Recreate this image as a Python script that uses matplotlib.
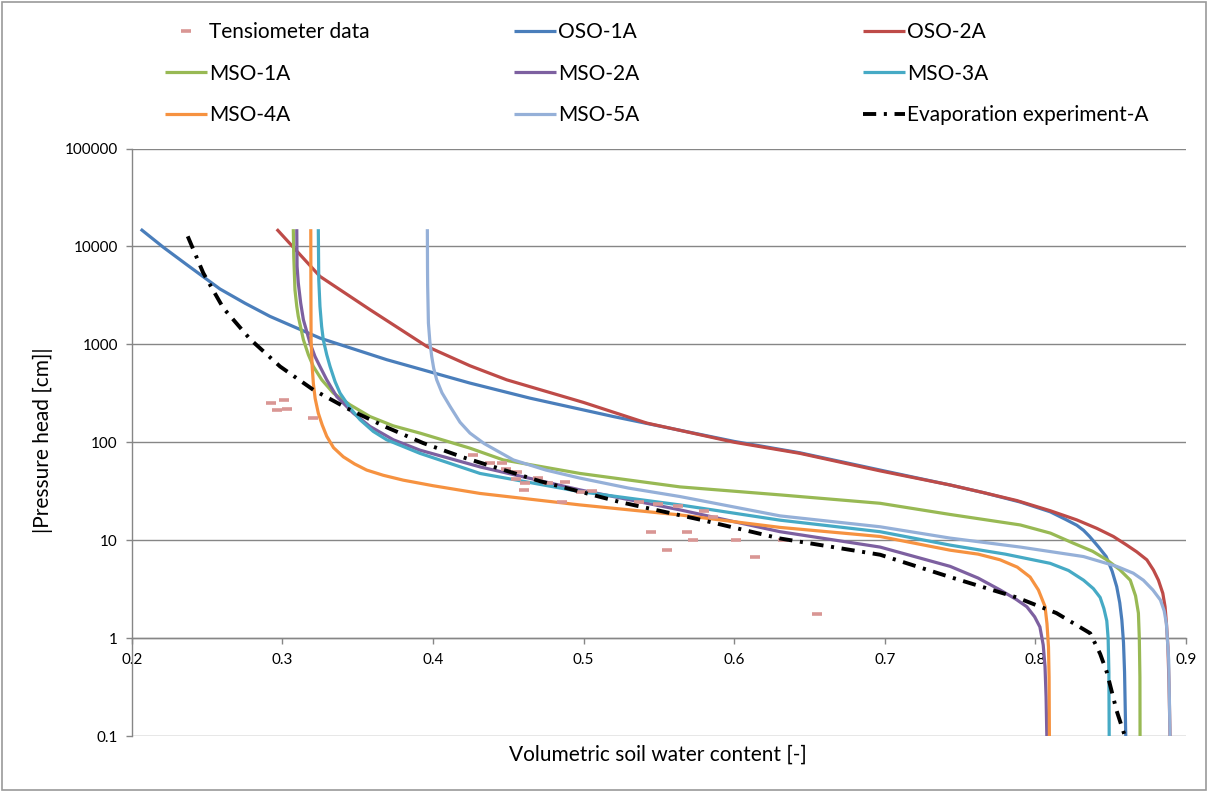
import matplotlib
matplotlib.use("Agg")
import matplotlib.pyplot as plt
from matplotlib.patches import Rectangle
from matplotlib.ticker import FixedLocator, FixedFormatter, NullLocator

plt.rcParams['font.family'] = ['Lato', 'DejaVu Sans']
plt.rcParams['lines.scale_dashes'] = False

# Retention curves: volumetric water content (-) vs |pressure head| (cm)
theta_oso1 = [0.206, 0.221, 0.2365, 0.2586, 0.2752, 0.2918, 0.325, 0.3693, 0.4246, 0.4645,
              0.5198, 0.600, 0.6437, 0.6969, 0.7434, 0.7655, 0.790, 0.8098, 0.8200, 0.8275,
              0.832, 0.836, 0.842, 0.847, 0.851, 0.854, 0.856, 0.8574, 0.8585, 0.8592, 0.860]
h_oso1 = [15000, 9800, 6520, 3675, 2630, 1930, 1158, 697, 402, 282,
          183, 102, 78, 52, 36.6, 30.6, 24.5, 19.5, 16.3, 14.2,
          12.6, 10.9, 8.5, 6.8, 4.8, 3.35, 2.3, 1.53, 0.9, 0.45, 0.1]

theta_oso2 = [0.2963, 0.325, 0.3582, 0.3959, 0.4246, 0.449, 0.500, 0.542, 0.600, 0.6437,
              0.6969, 0.7434, 0.7655, 0.7876, 0.8098, 0.8275, 0.8408, 0.8518, 0.8607, 0.8673,
              0.874, 0.8784, 0.8817, 0.8846, 0.8861, 0.887, 0.888, 0.8887, 0.8894]
h_oso2 = [15000, 4940, 2260, 953, 604, 434, 255, 157, 100, 77,
          51, 36.6, 30.6, 25.4, 20.0, 16.1, 13.2, 10.9, 8.9, 7.6,
          6.3, 4.95, 3.9, 2.87, 2.09, 1.42, 0.81, 0.35, 0.1]

theta_mso1 = [0.3073, 0.3076, 0.3084, 0.3096, 0.3106, 0.314, 0.3173, 0.3206, 0.3262, 0.3339,
              0.345, 0.3582, 0.3737, 0.3914, 0.4246, 0.4467, 0.4977, 0.564, 0.6305, 0.6969,
              0.7434, 0.790, 0.810, 0.8253, 0.838, 0.8474, 0.856, 0.863, 0.8665, 0.8684,
              0.869, 0.8694, 0.8695]
h_mso1 = [15000, 7930, 3600, 2440, 1930, 1114, 783, 594, 434, 318,
          241, 183, 147, 124, 87, 66, 48, 35, 29, 23.8,
          18.3, 14.3, 11.8, 9.3, 7.7, 6.3, 5.0, 3.9, 2.7, 1.8,
          1.0, 0.4, 0.1]

theta_mso2 = [0.3096, 0.3098, 0.3106, 0.3122, 0.314, 0.3184, 0.3217, 0.325, 0.3295, 0.3361,
              0.3472, 0.3582, 0.3737, 0.3914, 0.4313, 0.4977, 0.564, 0.6305, 0.6969, 0.7434,
              0.762, 0.7766, 0.787, 0.7943, 0.7995, 0.803, 0.8052, 0.8064, 0.8071, 0.8076]
h_mso2 = [15000, 6270, 4240, 2640, 1780, 1030, 751, 594, 434, 293,
          198, 145, 106, 83, 56, 32.6, 20.4, 12.2, 8.5, 5.4,
          4.1, 3.1, 2.5, 2.09, 1.65, 1.3, 0.85, 0.51, 0.25, 0.1]

theta_mso3 = [0.3239, 0.3242, 0.325, 0.3261, 0.3272, 0.3295, 0.3317, 0.335, 0.3383, 0.345,
              0.3516, 0.3604, 0.3693, 0.3914, 0.4313, 0.4977, 0.564, 0.6305, 0.6969, 0.7434,
              0.780, 0.8098, 0.822, 0.832, 0.8385, 0.843, 0.8455, 0.8474, 0.8483, 0.8488, 0.849]
h_mso3 = [15000, 4570, 2440, 1524, 1114, 783, 594, 417, 318, 224,
          170, 129, 106, 77, 48, 31.3, 22.9, 16, 12.2, 8.9,
          7.2, 5.8, 4.9, 3.9, 3.2, 2.6, 2.0, 1.5, 1.0, 0.45, 0.1]

theta_mso4 = [0.3189, 0.3190, 0.3191, 0.3198, 0.3206, 0.3218, 0.3239, 0.3265, 0.3295, 0.334,
              0.3405, 0.348, 0.356, 0.367, 0.3803, 0.400, 0.4313, 0.4977, 0.564, 0.6305,
              0.6969, 0.7434, 0.762, 0.7766, 0.788, 0.7965, 0.802, 0.8064, 0.8077, 0.8087,
              0.8091, 0.8093]
h_mso4 = [15000, 3000, 1114, 600, 400, 280, 198, 150, 115, 88,
          71, 60, 52, 46, 41, 36, 30, 22.9, 18.1, 13.5,
          10.9, 7.9, 7.2, 6.3, 5.3, 4.2, 3.1, 2.1, 1.4, 0.81,
          0.4, 0.1]

theta_mso5 = [0.3963, 0.3964, 0.3965, 0.397, 0.398, 0.3992, 0.4005, 0.4025, 0.406, 0.4114,
              0.418, 0.4246, 0.434, 0.4534, 0.475, 0.4977, 0.530, 0.564, 0.6305, 0.6969,
              0.7434, 0.790, 0.832, 0.854, 0.865, 0.8717, 0.878, 0.883, 0.8855, 0.887,
              0.8885, 0.8894]
h_mso5 = [15000, 6000, 4000, 1650, 1050, 751, 570, 434, 320, 232,
          160, 124, 97, 66, 52, 43, 34, 27.9, 17.7, 13.7,
          10.5, 8.5, 6.8, 5.4, 4.6, 3.9, 3.1, 2.45, 1.9, 1.4,
          0.6, 0.1]

theta_evap = [0.2372, 0.2475, 0.2608, 0.2786, 0.2985, 0.3206, 0.345, 0.3693, 0.3936, 0.4202,
              0.4711, 0.5242, 0.5774, 0.6305, 0.6969, 0.7434, 0.7876, 0.814, 0.8364, 0.843,
              0.8474, 0.854, 0.8594]
h_evap = [12680, 5360, 2350, 1130, 594, 343, 214, 142, 98, 70,
          40, 24.5, 16.2, 10.4, 7.1, 4.2, 2.6, 1.8, 1.12, 0.69,
          0.45, 0.18, 0.1]

theta_tens = [0.2923, 0.3011, 0.2967, 0.3033, 0.3206, 0.4268, 0.4379, 0.4457, 0.4485, 0.4556,
              0.4552, 0.4611, 0.4605, 0.4700, 0.4766, 0.4877, 0.4855, 0.4984, 0.5054, 0.5370,
              0.5497, 0.5625, 0.5801, 0.5862, 0.5446, 0.5689, 0.5729, 0.5556, 0.6013, 0.6139,
              0.6323, 0.6548]
h_tens = [251, 268, 211, 218, 176, 74, 62, 62, 53, 50,
          42, 38.7, 32.6, 43, 38, 39, 24.8, 31.3, 31.8, 24.8,
          23.3, 22.4, 20, 17.1, 12, 12, 10, 7.9, 10, 6.8,
          10, 1.76]

x_ticks = [0.2, 0.3, 0.4, 0.5, 0.6, 0.7, 0.8, 0.9]
y_ticks = [0.1, 1, 10, 100, 1000, 10000, 100000]
y_labels = ['0.1', '1', '10', '100', '1000', '10000', '100000']

W, H = 1207, 791
fig = plt.figure(figsize=(W / 100, H / 100), dpi=100)
ax = fig.add_axes([131.7 / W, 1 - 736 / H, (1186 - 131.7) / W, (736 - 148.5) / H])

grid_c = '#868686'
lw = 2.3

curves = [
    ('OSO-1A', theta_oso1, h_oso1, '#4A7EBB'),
    ('OSO-2A', theta_oso2, h_oso2, '#BE4B48'),
    ('MSO-1A', theta_mso1, h_mso1, '#98B954'),
    ('MSO-2A', theta_mso2, h_mso2, '#7D60A0'),
    ('MSO-3A', theta_mso3, h_mso3, '#46AAC5'),
    ('MSO-4A', theta_mso4, h_mso4, '#F69240'),
    ('MSO-5A', theta_mso5, h_mso5, '#95B0D8'),
]

handles = {}
tens, = ax.plot(theta_tens, h_tens, linestyle='none', marker='_', markersize=6.5,
                markeredgewidth=2.6, color='#D99694', zorder=4, label='Tensiometer data')
handles['Tensiometer data'] = tens
for name, t, h, c in curves:
    ln, = ax.plot(t, h, color=c, lw=lw, solid_capstyle='butt', solid_joinstyle='round',
                  zorder=3, label=name)
    handles[name] = ln
evap, = ax.plot(theta_evap, h_evap, color='black', lw=2.8, zorder=5,
                dashes=(9.5, 5.5, 2.2, 5.5), dash_capstyle='butt',
                label='Evaporation experiment-A')
handles['Evaporation experiment-A'] = evap

ax.set_yscale('log')
ax.set_xlim(0.2, 0.9)
ax.set_ylim(0.1, 100000)
ax.yaxis.set_major_locator(FixedLocator(y_ticks))
ax.yaxis.set_major_formatter(FixedFormatter(y_labels))
ax.yaxis.set_minor_locator(NullLocator())
ax.set_xticks(x_ticks)
ax.set_xticklabels([f'{v:.1f}' for v in x_ticks])

ax.grid(axis='y', color=grid_c, lw=1.0, zorder=0)
ax.set_axisbelow(True)
for s in ('top', 'right'):
    ax.spines[s].set_visible(False)
ax.spines['bottom'].set_position(('data', 1))
for s in ('left', 'bottom'):
    ax.spines[s].set_color(grid_c)
    ax.spines[s].set_linewidth(1.0)
ax.tick_params(axis='both', direction='out', length=4, width=1.0, color=grid_c,
               labelsize=11, labelcolor='black')
ax.tick_params(axis='y', pad=6)
ax.tick_params(axis='x', pad=7)

fig.text(658 / W, 1 - 755 / H, 'Volumetric soil water content [-]', ha='center', va='center',
         fontsize=15)
fig.text(43 / W, 1 - 440 / H, '|Pressure head [cm]|', ha='center', va='center',
         rotation=90, fontsize=15)

# Legend laid out as three columns
columns = [
    (165, ['Tensiometer data', 'MSO-1A', 'MSO-4A']),
    (514, ['OSO-1A', 'MSO-2A', 'MSO-5A']),
    (863, ['OSO-2A', 'MSO-3A', 'Evaporation experiment-A']),
]
for x0, names in columns:
    fig.legend([handles[n] for n in names], names, loc='upper left',
               bbox_to_anchor=(x0 / W, 1 - 22.5 / H), bbox_transform=fig.transFigure,
               frameon=False, fontsize=15, handlelength=2.0, handletextpad=0.1,
               borderpad=0, borderaxespad=0, labelspacing=1.02, numpoints=1)

fig.patches.append(Rectangle((1.5 / W, 1.5 / H), (W - 3) / W, (H - 3) / H,
                             transform=fig.transFigure, fill=False, edgecolor='#9A9A9A',
                             lw=1.2))

fig.savefig('out.png', dpi=100)
